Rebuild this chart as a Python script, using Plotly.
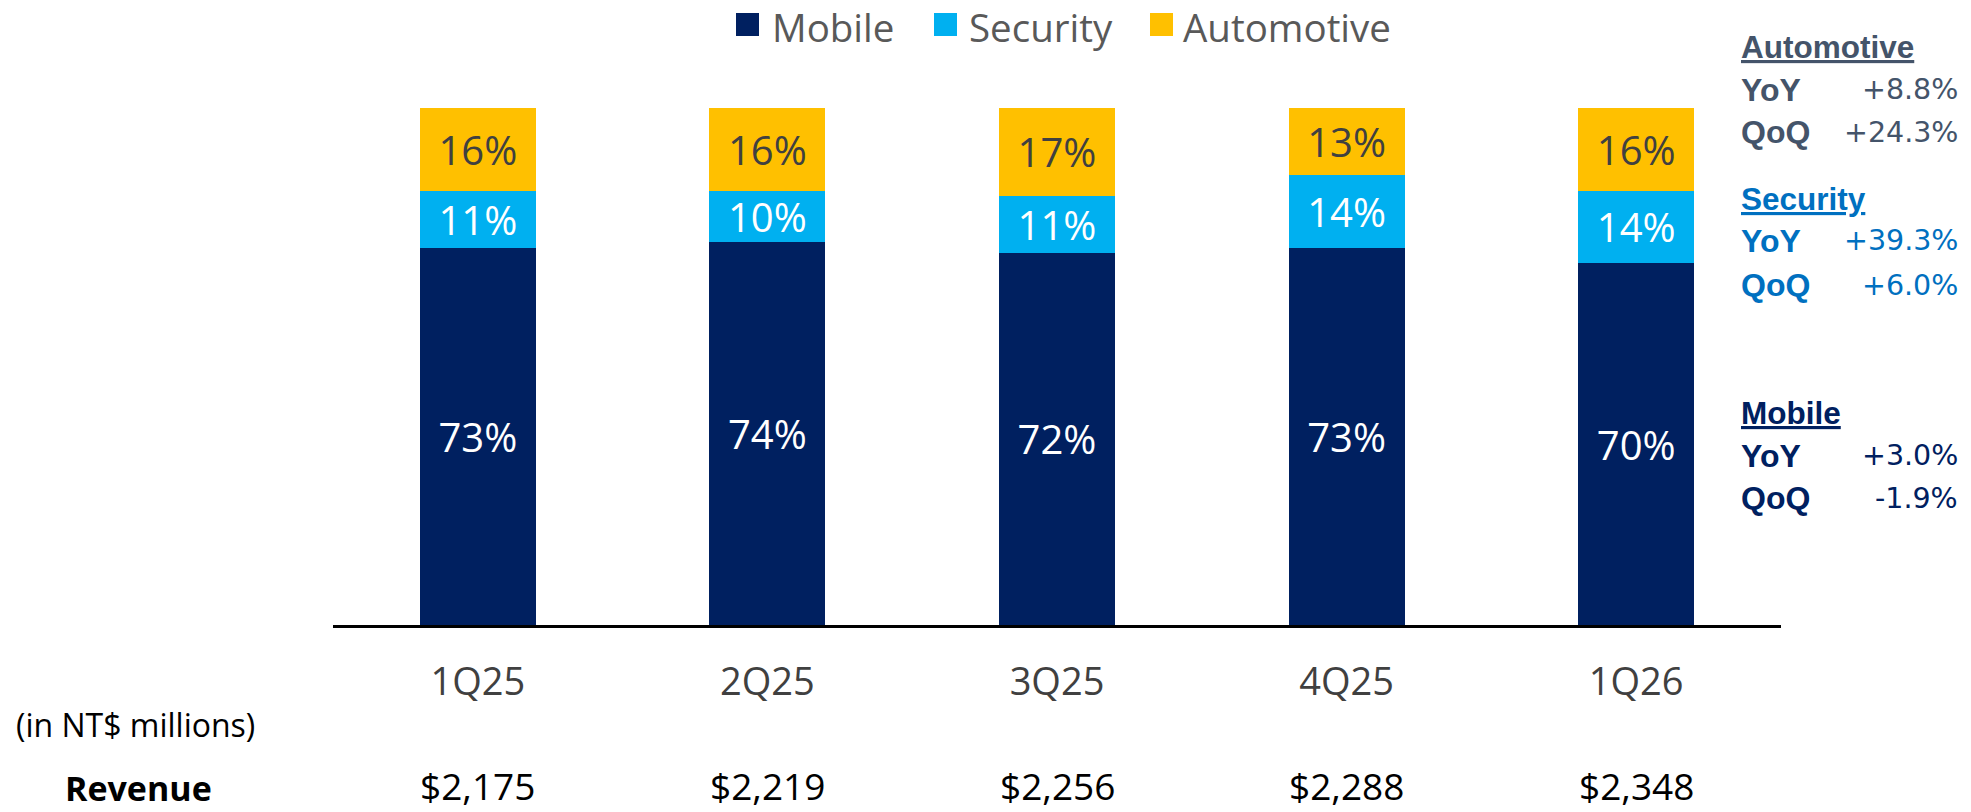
import plotly.graph_objects as go

quarters = ["1Q25", "2Q25", "3Q25", "4Q25", "1Q26"]
mobile = [73, 74, 72, 73, 70]
security = [11, 10, 11, 14, 14]
automotive = [16, 16, 17, 13, 16]
revenue = [2175, 2219, 2256, 2288, 2348]

segments = ["Automotive", "Security", "Mobile"]
yoy = ["+8.8%", "+39.3%", "+3.0%"]
qoq = ["+24.3%", "+6.0%", "-1.9%"]

W, H = 1971, 812
L, R, T, B = 333, 190, 108, 187
PW, PH = W - L - R, H - T - B

def px(x):
    return (x - L) / PW

def py(y):
    return (H - B - y) / PH

C_MOB, C_SEC, C_AUTO = "#002060", "#00B0F0", "#FFC000"
FONT = "Open Sans"

fig = go.Figure()
for name, vals, col, tcol in [
    ("Mobile", mobile, C_MOB, "white"),
    ("Security", security, C_SEC, "white"),
    ("Automotive", automotive, C_AUTO, "#404040"),
]:
    fig.add_trace(go.Bar(
        x=quarters, y=vals, name=name, marker=dict(color=col, line=dict(width=0)),
        width=0.4, text=[f"{v}%" for v in vals], textposition="inside",
        insidetextanchor="middle", textfont=dict(family=FONT, size=40, color=tcol),
        showlegend=False, hoverinfo="skip",
    ))

shapes = []
annotations = []

# legend
legend_items = [("Mobile", C_MOB, 736, 771), ("Security", C_SEC, 934, 968), ("Automotive", C_AUTO, 1150, 1182)]
for name, col, sx, tx in legend_items:
    shapes.append(dict(type="rect", xref="paper", yref="paper", x0=px(sx), x1=px(sx + 23),
                       y0=py(36), y1=py(13), fillcolor=col, line=dict(width=0)))
    annotations.append(dict(text=name, xref="paper", yref="paper", x=px(tx), y=py(0),
                            xanchor="left", yanchor="top", showarrow=False, borderpad=0,
                            font=dict(family=FONT, size=38.5, color="#595959")))

# revenue row
annotations.append(dict(text="(in NT$ millions)", xref="paper", yref="paper", x=px(14), y=py(724),
                        xanchor="left", yanchor="middle", showarrow=False,
                        font=dict(family=FONT, size=32, color="black")))
annotations.append(dict(text="<b>Revenue</b>", xref="paper", yref="paper", x=px(138), y=py(812),
                        xanchor="center", yanchor="bottom", showarrow=False, borderpad=0,
                        font=dict(family=FONT, size=34, color="black")))
for q, rv in zip(quarters, revenue):
    annotations.append(dict(text=f"${rv:,}", xref="x", yref="paper", x=q, y=py(812),
                            xanchor="center", yanchor="bottom", showarrow=False, borderpad=0,
                            font=dict(family=FONT, size=37, color="black")))

# growth table
seg_colors = ["#44546A", "#0070C0", "#002060"]
rows_y = [(47, 90, 132), (199, 241, 285), (413, 456, 498)]
for seg, col, (hy, yy, qy), yv, qv in zip(segments, seg_colors, rows_y, yoy, qoq):
    annotations.append(dict(text=f"<b><u>{seg}</u></b>", xref="paper", yref="paper", x=px(1739), y=py(hy),
                            xanchor="left", yanchor="middle", showarrow=False,
                            font=dict(family="Liberation Sans", size=31.5, color=col)))
    for lab, val, yy_ in [("YoY", yv, yy), ("QoQ", qv, qy)]:
        annotations.append(dict(text=f"<b>{lab}</b>", xref="paper", yref="paper", x=px(1739), y=py(yy_),
                                xanchor="left", yanchor="middle", showarrow=False,
                                font=dict(family="Liberation Sans", size=32, color=col)))
        annotations.append(dict(text=val, xref="paper", yref="paper", x=px(1960), y=py(yy_),
                                xanchor="right", yanchor="middle", showarrow=False,
                                font=dict(family="DejaVu Sans", size=28.5, color=col)))

fig.update_layout(
    width=W, height=H, margin=dict(l=L, r=R, t=T, b=B, pad=0),
    barmode="stack", plot_bgcolor="white", paper_bgcolor="white",
    uniformtext=dict(minsize=40, mode="show"),
    shapes=shapes, annotations=annotations, showlegend=False,
    xaxis=dict(showgrid=False, showline=True, linecolor="black", linewidth=2.5, ticks="",
               tickfont=dict(family=FONT, size=38, color="#404040"), ticklabelstandoff=22,
               range=[-0.5, 4.5], zeroline=False),
    yaxis=dict(visible=False, range=[0, 100], showgrid=False, zeroline=False),
)

fig.write_html("out.html", config={"displayModeBar": False},
               post_script="document.body.style.margin='0';document.body.style.overflow='hidden';")
